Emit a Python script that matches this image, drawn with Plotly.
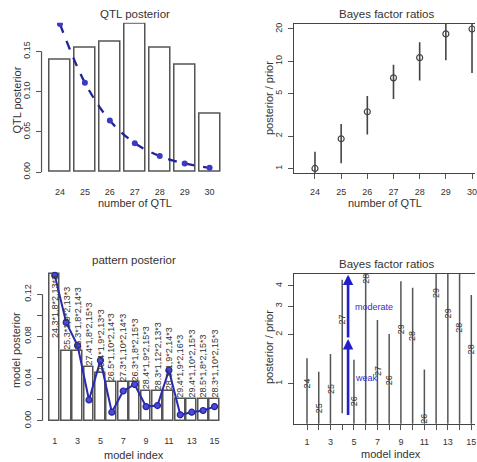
import plotly.graph_objects as go
import numpy as np

W, H = 477, 462

# ---------------- data ----------------
nqtl = [24, 25, 26, 27, 28, 29, 30]
qtl_post = [0.140, 0.155, 0.162, 0.184, 0.155, 0.133, 0.073]
qtl_prior = [0.184, 0.111, 0.064, 0.036, 0.020, 0.0107, 0.0053]

bf_nqtl_est = [1.0, 1.89, 3.38, 7.0, 10.8, 18.0, 20.0]
bf_nqtl_lo = [0.85, 1.12, 2.07, 4.45, 6.62, 10.2, 7.78]
bf_nqtl_hi = [1.435, 2.60, 4.75, 9.3, 15.0, 30.0, 30.0]

model_idx = list(range(1, 16))
patterns = ["24.3*1,8*2,13*3", "25.3*1,9*2,13*3", "25.3*1,8*2,14*3", "27.4*1,8*2,15*3",
            "26.4*1,9*2,13*3", "26.5*1,10*2,14*3", "27.3*1,10*2,14*3", "26.3*1,8*2,15*3",
            "28.4*1,9*2,15*3", "28.3*1,12*2,13*3", "28.3*1,9*2,14*3", "29.4*1,9*2,16*3",
            "29.4*1,10*2,15*3", "28.5*1,8*2,15*3", "28.3*1,10*2,15*3"]
pat_post = [0.1395, 0.066, 0.066, 0.051, 0.045, 0.0363, 0.0363, 0.0363,
            0.0284, 0.0284, 0.0284, 0.0207, 0.0207, 0.0207, 0.0207]
pat_prior = [0.138, 0.0933, 0.0714, 0.0197, 0.0573, 0.0081, 0.0282, 0.0344,
             0.0134, 0.0144, 0.0479, 0.0056, 0.0081, 0.0097, 0.0134]

bf_pat_est = [1.0, 0.70, 0.93, 2.49, 0.775, 4.40, 1.2, 1.05, 2.16, 1.95, 0.61, 3.62, 2.70, 2.19, 1.63]
bf_pat_lo = [0.4, 0.4, 0.4, 0.656, 0.4, 0.4, 0.4, 0.4, 0.4, 0.4, 0.4, 0.4, 0.4, 0.4, 0.4]
bf_pat_hi = [1.43, 1.18, 1.52, 4.37, 1.40, 6.0, 2.46, 2.02, 4.27, 3.89, 1.22, 6.0, 6.0, 6.0, 3.51]
bf_pat_lab = ["24", "25", "25", "27", "26", "28", "27", "26", "29", "28", "26", "29", "29", "28", "28"]

evidence_levels = [0.626, 1.88, 4.69]
evidence_names = ["weak", "moderate"]
qtl_ticks = [0.0, 0.05, 0.10, 0.15]
pat_ticks = [0.0, 0.02, 0.04, 0.06, 0.08, 0.10, 0.12]
pat_ticktext = ["0.00", "", "0.04", "", "0.08", "", "0.12"]
bf1_ticks = [1, 2, 5, 10, 20]
bf2_ticks = [1, 2, 3, 4]

FONT = "Liberation Sans, Arial, sans-serif"
TXT = "#333333"
GREY = "#555555"
BLUE_LINE = "#22229a"
BLUE_PT = "#3a3ac4"


def fx(p):
    return p / W


def fy(p):
    return 1 - p / H


fig = go.Figure()

# ---------------- panel 1: QTL posterior ----------------
fig.add_trace(go.Bar(x=nqtl, y=qtl_post, width=0.84, marker=dict(color="white", line=dict(color=GREY, width=1.5)),
                     xaxis="x", yaxis="y", showlegend=False))
fig.add_trace(go.Scatter(x=nqtl, y=qtl_prior, mode="lines+markers", line=dict(color=BLUE_LINE, width=2.3, dash="dash", shape="spline"),
                         marker=dict(size=6, color=BLUE_PT), xaxis="x", yaxis="y", showlegend=False))

# ---------------- panel 2: Bayes factor ratios (nqtl) ----------------
seg_x, seg_y = [], []
for xv, lo, hi in zip(nqtl, bf_nqtl_lo, bf_nqtl_hi):
    seg_x += [xv, xv, None]
    seg_y += [lo, hi, None]
fig.add_trace(go.Scatter(x=seg_x, y=seg_y, mode="lines", line=dict(color="#444444", width=1.6),
                         xaxis="x2", yaxis="y2", showlegend=False))
fig.add_trace(go.Scatter(x=nqtl, y=bf_nqtl_est, mode="markers",
                         marker=dict(symbol="circle-open", size=6, color="#444444", line=dict(width=1.2)),
                         xaxis="x2", yaxis="y2", showlegend=False))

# ---------------- panel 3: pattern posterior ----------------
fig.add_trace(go.Bar(x=model_idx, y=pat_post, width=0.86, marker=dict(color="white", line=dict(color=GREY, width=1.5)),
                     xaxis="x3", yaxis="y3", showlegend=False))
fig.add_trace(go.Scatter(x=model_idx, y=pat_prior, mode="lines+markers", line=dict(color="#2a2ab0", width=2),
                         marker=dict(size=6, color="#4a4ad6", line=dict(color="#2424a0", width=1.2)),
                         xaxis="x3", yaxis="y3", showlegend=False))

# ---------------- panel 4: Bayes factor ratios (patterns) ----------------
seg_x, seg_y = [], []
for xv, lo, hi in zip(model_idx, bf_pat_lo, bf_pat_hi):
    seg_x += [xv, xv, None]
    seg_y += [lo, hi, None]
fig.add_trace(go.Scatter(x=seg_x, y=seg_y, mode="lines", line=dict(color="#555555", width=1.5),
                         xaxis="x4", yaxis="y4", showlegend=False))

annotations = []
shapes = []

# pattern labels
for i, (xv, hv, lab) in enumerate(zip(model_idx, pat_post, patterns)):
    annotations.append(dict(x=xv, y=hv, xref="x3", yref="y3", text=lab, textangle=-90, showarrow=False,
                            xanchor="center", yanchor="top" if i == 0 else "bottom",
                            font=dict(size=9, color=TXT, family=FONT), borderpad=0))

# panel 4 labels
for xv, ev, lab in zip(model_idx, bf_pat_est, bf_pat_lab):
    annotations.append(dict(x=xv, y=np.log10(ev), xref="x4", yref="y4", text=lab, textangle=-90, showarrow=False,
                            xanchor="center", yanchor="middle", font=dict(size=9, color=TXT, family=FONT), borderpad=0))

# evidence arrows
ax_x = 4.5
for lo, hi, name in zip(evidence_levels[:-1], evidence_levels[1:], evidence_names):
    annotations.append(dict(x=ax_x, y=np.log10(hi), ax=ax_x, ay=np.log10(lo), xref="x4", yref="y4",
                            axref="x4", ayref="y4", showarrow=True, arrowhead=2, arrowsize=0.8,
                            arrowwidth=2.6, arrowcolor="#1f1fd0", text=""))
    annotations.append(dict(x=4.95, y=0.5 * (np.log10(lo) + np.log10(hi)), xref="x4", yref="y4", text=name,
                            showarrow=False, xanchor="left", yanchor="middle",
                            font=dict(size=9, color="#3030c8", family=FONT)))
shapes.append(dict(type="line", xref="x4", yref="y4", x0=ax_x - 0.25, x1=ax_x + 0.25,
                   y0=np.log10(evidence_levels[0]), y1=np.log10(evidence_levels[0]),
                   line=dict(color="#1f1fd0", width=2.5)))

# y axis lines for bar plots (R style: from first to last tick)
shapes.append(dict(type="line", xref="paper", yref="y", x0=fx(41.7), x1=fx(41.7), y0=qtl_ticks[0], y1=qtl_ticks[-1],
                   line=dict(color=GREY, width=1.2)))
shapes.append(dict(type="line", xref="paper", yref="y3", x0=fx(42.7), x1=fx(42.7), y0=pat_ticks[0], y1=pat_ticks[-1],
                   line=dict(color=GREY, width=1.2)))

# titles
for txt, cx, cy in [("QTL posterior", 136, 13.5), ("Bayes factor ratios", 387.7, 13.5),
                    ("pattern posterior", 135, 261.7), ("Bayes factor ratios", 387.7, 265.7)]:
    annotations.append(dict(x=fx(cx), y=fy(cy), xref="paper", yref="paper", text=txt, showarrow=False,
                            xanchor="center", yanchor="middle", font=dict(size=11.5, color=TXT, family=FONT)))
# axis titles
for txt, cx, cy, ang in [("number of QTL", 136, 204, 0), ("number of QTL", 386.7, 204, 0),
                         ("model index", 135, 458.5, 0), ("model index", 392.7, 458, 0),
                         ("QTL posterior", 16.7, 100, -90), ("posterior / prior", 270, 98.3, -90),
                         ("model posterior", 16, 353, -90), ("posterior / prior", 270, 350, -90)]:
    annotations.append(dict(x=fx(cx), y=fy(cy), xref="paper", yref="paper", text=txt, showarrow=False,
                            textangle=ang, xanchor="center", yanchor="middle",
                            font=dict(size=11, color=TXT, family=FONT)))

tickfont = dict(size=9, color=TXT, family=FONT)

# ranges
x1r = [24 + (41.7 - 60.2) / 25.05, 24 + (228 - 60.2) / 25.05]
y1r = [(173 - 178) / 814.0, (173 - 22) / 814.0]
x2r = [24 - (316.3 - 295) / 26.28, 30 + (477 - 474) / 26.28]
y2r = [-0.0434, 1.347]
x3r = [1 + (42.7 - 55) / 11.46, 1 + (226 - 55) / 11.46]
y3r = [(424.3 - 428) / 1065.0, (424.3 - 272) / 1065.0]
x4r = [1 - (308.3 - 295) / 11.79, 15 + (477 - 473.3) / 11.79]
y4r = [-0.248, 0.677]

fig.update_layout(
    width=W, height=H, margin=dict(l=0, r=0, t=0, b=0),
    paper_bgcolor="white", plot_bgcolor="white",
    font=dict(family=FONT, color=TXT),
    bargap=0,
    xaxis=dict(domain=[fx(41.7), fx(228)], range=x1r, anchor="y", tickvals=nqtl, ticks="", showline=False,
               showgrid=False, zeroline=False, tickfont=tickfont, ticklabelstandoff=8),
    yaxis=dict(domain=[fy(178), fy(22)], range=y1r, anchor="x", tickvals=qtl_ticks, ticktext=["0.00", "0.05", "0.10", "0.15"],
               ticks="outside", ticklen=5, tickcolor=GREY, showline=False, showgrid=False, zeroline=False,
               tickangle=-90, tickfont=tickfont, ticklabelstandoff=2),
    xaxis2=dict(domain=[fx(295), 1.0], range=x2r, anchor="y2", tickvals=nqtl, ticks="outside", ticklen=5,
                tickcolor=GREY, showline=True, linecolor="#444444", linewidth=1.2, mirror=True, showgrid=False,
                zeroline=False, tickfont=tickfont, ticklabelstandoff=5, ticklabeloverflow="allow"),
    yaxis2=dict(domain=[fy(174), fy(23.3)], type="log", range=y2r, anchor="x2", tickvals=bf1_ticks,
                ticktext=[str(v) for v in bf1_ticks], ticks="outside", ticklen=5, tickcolor=GREY, showline=True,
                linecolor="#444444", linewidth=1.2, showgrid=False, zeroline=False, tickangle=-90,
                tickfont=tickfont, ticklabelstandoff=2),
    xaxis3=dict(domain=[fx(42.7), fx(226)], range=x3r, anchor="y3", tickvals=model_idx,
                ticktext=[str(v) if v % 2 == 1 else "" for v in model_idx], ticks="", showline=False,
                showgrid=False, zeroline=False, tickfont=tickfont, ticklabelstandoff=10),
    yaxis3=dict(domain=[fy(428), fy(272)], range=y3r, anchor="x3", tickvals=pat_ticks, ticktext=pat_ticktext,
                ticks="outside", ticklen=5, tickcolor=GREY, showline=False, showgrid=False, zeroline=False,
                tickangle=-90, tickfont=tickfont, ticklabelstandoff=2),
    xaxis4=dict(domain=[fx(295), 1.0], range=x4r, anchor="y4", tickvals=model_idx,
                ticktext=[str(v) if v % 2 == 1 else "" for v in model_idx], ticks="outside", ticklen=5,
                tickcolor=GREY, showline=True, linecolor="#444444", linewidth=1.2, mirror=True, showgrid=False,
                zeroline=False, tickfont=tickfont, ticklabelstandoff=4, ticklabeloverflow="allow"),
    yaxis4=dict(domain=[fy(427.3), fy(275.7)], type="log", range=y4r, anchor="x4", tickvals=bf2_ticks,
                ticktext=[str(v) for v in bf2_ticks], ticks="outside", ticklen=5, tickcolor=GREY, showline=True,
                linecolor="#444444", linewidth=1.2, showgrid=False, zeroline=False, tickangle=-90,
                tickfont=tickfont, ticklabelstandoff=2),
    annotations=annotations,
    shapes=shapes,
)

fig.write_html("out.html", config={"displayModeBar": False},
               post_script="document.body.style.margin='0px';")
